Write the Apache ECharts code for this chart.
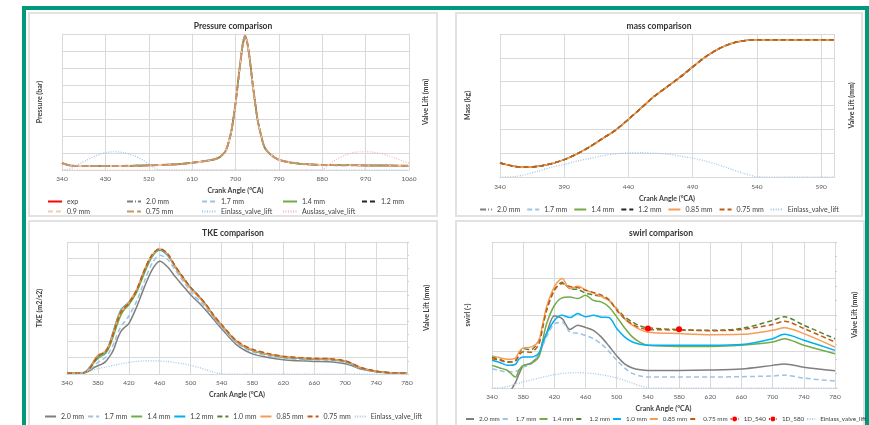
<!DOCTYPE html>
<html>
<head>
<meta charset="utf-8">
<script src="https://cdn.jsdelivr.net/npm/echarts@6/dist/echarts.min.js"></script>
<style>
body { margin: 0; background: #fff; width: 869px; height: 425px; overflow: hidden; position: relative; }
.frame { position: absolute; left: 22px; top: 6px; width: 847px; height: 440px; box-sizing: border-box; border: 4px solid #00997b; border-bottom: none; }
.panel { position: absolute; box-sizing: border-box; border: 2px solid #e2e2e2; }
.chart { position: absolute; }
</style>
</head>
<body>
<div class="frame"></div>
<div class="panel" style="left:28px;top:12px;width:410px;height:205px"></div>
<div class="panel" style="left:455px;top:12px;width:408px;height:205px"></div>
<div class="panel" style="left:28px;top:220px;width:410px;height:215px"></div>
<div class="panel" style="left:455px;top:220px;width:410px;height:215px"></div>
<div class="chart" id="pressure" style="left:28px;top:12px;width:410px;height:205px"></div>
<div class="chart" id="mass" style="left:455px;top:12px;width:408px;height:205px"></div>
<div class="chart" id="tke" style="left:28px;top:220px;width:410px;height:205px"></div>
<div class="chart" id="swirl" style="left:455px;top:220px;width:412px;height:205px"></div>
<script>
var FONT = 'Lato, "Open Sans", sans-serif';

// valve lift (mm)
var einlassAngle = [340, 350, 360, 370, 380, 390, 400, 410, 420, 430, 440, 450, 460, 470, 480, 490, 500, 510, 520, 530, 540, 545, 600, 700, 800, 1060];
var einlassLift = [0, 0.1, 0.9, 2.2, 3.6, 4.7, 5.9, 6.9, 7.9, 8.6, 8.9, 9.0, 8.8, 8.5, 7.8, 7.0, 5.9, 4.5, 2.9, 1.3, 0.1, 0, 0, 0, 0, 0];
var auslassAngle = [340, 870, 880, 890, 900, 910, 920, 930, 940, 950, 960, 970, 980, 990, 1000, 1010, 1020, 1030, 1040, 1050, 1060];
var auslassLift = [0, 0, 0.1, 2.0, 3.8, 5.3, 6.5, 7.5, 8.3, 8.8, 9.0, 9.0, 8.9, 8.6, 8.2, 7.6, 6.8, 6.0, 5.1, 4.2, 3.3];

// pressure
var pAngle = [340, 360, 400, 460, 520, 580, 610, 640, 660, 670, 680, 690, 695, 700, 705, 710, 715, 720, 725, 730, 735, 740, 745, 750, 760, 770, 780, 790, 810, 840, 880, 970, 1060];
var pExp = [3.9, 2.6, 2.4, 2.4, 2.7, 3.4, 4.2, 5.4, 6.6, 8.2, 11.5, 21, 29, 39, 51, 63, 73, 78, 74, 64, 52, 41, 31, 24, 13.5, 9.8, 7.6, 6.0, 4.6, 3.6, 3.0, 2.7, 2.5];
var pSim = [4.2, 2.5, 2.4, 2.4, 2.75, 3.4, 4.2, 5.4, 6.6, 8.2, 11.5, 21, 29, 39, 51, 63, 74, 79, 74, 64, 52, 41, 31, 24, 13.5, 9.8, 7.6, 6.0, 4.6, 3.6, 3.0, 2.7, 2.5];

// mass
var massAngle = [340, 350, 355, 360, 370, 380, 390, 400, 410, 420, 430, 440, 450, 460, 470, 480, 490, 500, 510, 520, 530, 540, 550, 600];
var massVal = [0.59, 0.46, 0.42, 0.42, 0.45, 0.56, 0.73, 0.97, 1.27, 1.62, 1.97, 2.42, 2.9, 3.38, 3.78, 4.18, 4.62, 5.04, 5.37, 5.6, 5.72, 5.76, 5.76, 5.76];

// TKE
var tkeAngle = [340, 350, 360, 365, 370, 375, 380, 385, 390, 395, 400, 405, 410, 415, 420, 430, 440, 450, 460, 470, 480, 490, 500, 510, 520, 530, 540, 560, 580, 600, 620, 640, 660, 680, 700, 710, 720, 740, 760, 780];
var tke20 = [0.04, 0.04, 0.05, 0.1, 0.22, 0.38, 0.5, 0.6, 0.75, 1.05, 1.45, 2.1, 2.6, 2.85, 3.05, 4.05, 5.25, 6.3, 6.83, 6.5, 5.9, 5.35, 4.8, 4.35, 3.85, 3.3, 2.75, 1.75, 1.22, 1.0, 0.86, 0.8, 0.76, 0.74, 0.62, 0.48, 0.3, 0.13, 0.06, 0.04];
var tke17 = [0.04, 0.04, 0.06, 0.12, 0.3, 0.5, 0.7, 0.85, 1.0, 1.35, 1.8, 2.4, 2.9, 3.2, 3.5, 4.4, 5.6, 6.7, 7.2, 6.95, 6.3, 5.65, 5.0, 4.5, 4.0, 3.4, 2.85, 1.85, 1.35, 1.1, 0.95, 0.88, 0.85, 0.83, 0.7, 0.54, 0.34, 0.14, 0.06, 0.04];
var tke14 = [0.04, 0.04, 0.06, 0.14, 0.38, 0.7, 0.95, 1.1, 1.25, 1.65, 2.3, 3.0, 3.6, 3.95, 4.2, 4.95, 6.1, 7.1, 7.55, 7.25, 6.5, 5.8, 5.2, 4.7, 4.15, 3.5, 2.95, 1.95, 1.42, 1.18, 1.02, 0.95, 0.9, 0.88, 0.76, 0.58, 0.37, 0.15, 0.07, 0.04];
var tke12 = [0.04, 0.04, 0.07, 0.18, 0.45, 0.8, 1.05, 1.2, 1.35, 1.85, 2.6, 3.35, 3.9, 4.15, 4.35, 5.05, 6.25, 7.15, 7.5, 7.2, 6.5, 5.85, 5.25, 4.75, 4.2, 3.5, 2.95, 1.95, 1.44, 1.2, 1.04, 0.96, 0.91, 0.89, 0.77, 0.59, 0.38, 0.16, 0.07, 0.04];
var tke10 = [0.04, 0.04, 0.06, 0.15, 0.4, 0.75, 1.1, 1.22, 1.38, 1.8, 2.5, 3.25, 3.8, 4.05, 4.3, 5.05, 6.25, 7.2, 7.58, 7.28, 6.52, 5.85, 5.22, 4.72, 4.18, 3.52, 2.97, 1.97, 1.46, 1.21, 1.05, 0.97, 0.92, 0.9, 0.78, 0.6, 0.38, 0.16, 0.07, 0.04];
var tke085 = [0.04, 0.04, 0.06, 0.15, 0.4, 0.8, 1.15, 1.25, 1.4, 1.8, 2.5, 3.3, 3.85, 4.1, 4.35, 5.1, 6.3, 7.2, 7.56, 7.25, 6.5, 5.8, 5.2, 4.7, 4.15, 3.5, 2.95, 1.95, 1.45, 1.2, 1.05, 0.97, 0.92, 0.9, 0.78, 0.6, 0.38, 0.16, 0.07, 0.04];
var tke075 = [0.04, 0.04, 0.06, 0.14, 0.38, 0.75, 1.1, 1.22, 1.38, 1.78, 2.45, 3.2, 3.78, 4.05, 4.3, 5.08, 6.28, 7.22, 7.6, 7.3, 6.55, 5.88, 5.25, 4.75, 4.22, 3.56, 3.0, 2.0, 1.5, 1.25, 1.08, 1.0, 0.95, 0.93, 0.8, 0.62, 0.4, 0.17, 0.07, 0.04];

// swirl
var swAngle = [340, 350, 360, 370, 375, 380, 390, 400, 405, 410, 420, 430, 440, 450, 460, 470, 480, 490, 500, 510, 520, 530, 540, 580, 620, 660, 700, 715, 740, 780];
var sw20 = [-0.6, -0.45, -0.2, 0.15, 0.4, 0.6, 0.68, 0.9, 1.2, 1.5, 1.98, 1.9, 1.6, 1.72, 1.66, 1.58, 1.4, 1.15, 0.88, 0.66, 0.55, 0.5, 0.48, 0.48, 0.49, 0.52, 0.62, 0.66, 0.57, 0.47];
var sw17 = [0.53, 0.48, 0.44, 0.45, 0.5, 0.58, 0.65, 0.94, 1.15, 1.4, 1.76, 1.8, 1.53, 1.5, 1.44, 1.35, 1.21, 1.0, 0.76, 0.55, 0.4, 0.33, 0.3, 0.3, 0.3, 0.31, 0.33, 0.35, 0.27, 0.19];
var sw14 = [0.62, 0.55, 0.48, 0.3, 0.5, 0.62, 0.67, 0.85, 1.3, 1.76, 2.26, 2.47, 2.49, 2.45, 2.54, 2.4, 2.36, 2.22, 1.95, 1.65, 1.4, 1.25, 1.17, 1.14, 1.14, 1.17, 1.26, 1.35, 1.17, 0.94];
var sw12 = [0.85, 0.78, 0.71, 0.75, 0.95, 1.08, 1.05, 1.3, 1.7, 2.13, 2.68, 2.9, 2.72, 2.7, 2.6, 2.55, 2.51, 2.4, 2.17, 1.95, 1.81, 1.7, 1.65, 1.6, 1.58, 1.63, 1.85, 1.95, 1.72, 1.35];
var sw10 = [0.76, 0.7, 0.62, 0.65, 0.8, 0.85, 0.85, 0.95, 1.25, 1.49, 1.85, 1.99, 1.93, 2.04, 1.95, 1.99, 1.94, 1.93, 1.63, 1.4, 1.26, 1.2, 1.17, 1.17, 1.17, 1.19, 1.35, 1.47, 1.31, 1.03];
var sw085 = [0.88, 0.83, 0.79, 0.82, 1.0, 1.1, 1.12, 1.3, 1.75, 2.22, 2.77, 3.0, 2.72, 2.79, 2.69, 2.6, 2.51, 2.4, 2.15, 1.9, 1.72, 1.6, 1.53, 1.49, 1.46, 1.47, 1.58, 1.65, 1.49, 1.12];
var sw075 = [0.8, 0.76, 0.71, 0.74, 0.9, 0.99, 0.98, 1.2, 1.65, 2.13, 2.68, 2.86, 2.78, 2.75, 2.68, 2.62, 2.55, 2.42, 2.13, 1.9, 1.75, 1.65, 1.6, 1.59, 1.57, 1.6, 1.74, 1.83, 1.63, 1.26];
var d540Angle = [540], d540Val = [1.63];
var d580Angle = [580], d580Val = [1.61];

var DASH = [5, 3], DASHDOT = [6, 2, 1, 2], DOT = [1, 1.5], LONGDASH = [7, 3];

function pairs(xs, ys) {
    return xs.map(function (x, i) { return [x, ys[i]]; });
}

function line(name, xs, ys, color, dash, width, axis) {
    return {
        name: name, type: 'line', data: pairs(xs, ys),
        yAxisIndex: axis || 0, symbol: 'none', smooth: 0.3,
        lineStyle: { color: color, width: width || 1.5, type: dash || 'solid' },
        itemStyle: { color: color },
        emphasis: { disabled: true }
    };
}

function valve(name, xs, ys, color) {
    return line(name, xs, ys, color, DOT, 1.2, 1);
}

// legend entries: hide the symbol in the icon except for the marker series
function legendData(names, series) {
    return names.map(function (n) {
        var s = series.filter(function (x) { return x.name === n; })[0];
        return { name: n, itemStyle: { opacity: s.symbol !== 'none' ? 1 : 0 } };
    });
}

function fixLegend(lg, series) {
    var names = lg.names || series.map(function (s) { return s.name; });
    var out = Object.assign({ itemStyle: { opacity: 0 } }, lg);
    delete out.names;
    out.data = legendData(names, series);
    return out;
}

function panel(id, c) {
    var chart = echarts.init(document.getElementById(id));
    var legends = [].concat(c.legend).map(function (lg) { return fixLegend(lg, c.series); });
    chart.setOption({
        animation: false,
        textStyle: { fontFamily: FONT },
        title: {
            text: c.title, left: 'center', top: c.titleTop,
            textStyle: { fontSize: 8.5, fontWeight: 'bold', color: '#333', fontFamily: FONT }
        },
        grid: c.grid,
        legend: legends,
        xAxis: {
            type: 'value', min: c.xMin, max: c.xMax, interval: c.xStep,
            name: 'Crank Angle (°CA)', nameLocation: 'middle', nameGap: c.xNameGap,
            nameTextStyle: { fontSize: 7, fontWeight: 'bold', color: '#404040' },
            axisLine: { lineStyle: { color: '#d9d9d9' } },
            axisTick: { show: false },
            axisLabel: {
                fontSize: 6.5, color: '#595959', margin: c.xLabelMargin, showMaxLabel: c.showMax !== false,
                formatter: function (v) { return String(v); }
            },
            splitLine: { lineStyle: { color: '#d9d9d9' } }
        },
        yAxis: [{
            type: 'value', min: 0, max: c.yMax, interval: c.yStep,
            name: c.yName, nameLocation: 'middle', nameGap: c.yNameGap, nameRotate: 90,
            nameTextStyle: { fontSize: 7, fontWeight: 'bold', color: '#404040' },
            axisLine: { show: false }, axisTick: { show: false }, axisLabel: { show: false },
            splitLine: { lineStyle: { color: '#d9d9d9' } }
        }, {
            type: 'value', min: 0, max: c.y2Max, interval: c.y2Max / 10, position: 'right',
            name: 'Valve Lift (mm)', nameLocation: 'middle', nameGap: c.y2NameGap, nameRotate: 90,
            nameTextStyle: { fontSize: 7, fontWeight: 'bold', color: '#404040' },
            axisLine: { show: false },
            axisTick: { show: c.y2Ticks, length: 2, lineStyle: { color: '#d0d0d0' } },
            axisLabel: { show: false }, splitLine: { show: false }
        }],
        series: c.series
    });
}

// pressure legend: two rows, items aligned in five columns
var pressureRows = [['exp', '2.0 mm', '1.7 mm', '1.4 mm', '1.2 mm'], ['0.9 mm', '0.75 mm', 'Einlass_valve_lift', 'Auslass_valve_lift']];
var pressureColLeft = [14, 93, 168, 249, 328];
var pressureRowTop = [181, 191];
var pressureLegends = [];
pressureRows.forEach(function (row, r) {
    row.forEach(function (name, i) {
        pressureLegends.push({
            names: [name], left: pressureColLeft[i], top: pressureRowTop[r],
            itemWidth: 14, itemHeight: 8, textStyle: { fontSize: 7, color: '#404040' }
        });
    });
});

panel('pressure', {
    title: 'Pressure comparison', titleTop: 5,
    grid: { left: 32, top: 22, width: 349, height: 136 },
    xMin: 340, xMax: 1060, xStep: 90, xLabelMargin: 5, xNameGap: 15,
    yMax: 80, yStep: 10, yName: 'Pressure (bar)', yNameGap: 19,
    y2Max: 67, y2NameGap: 13, y2Ticks: false,
    legend: pressureLegends,
    series: [
        line('exp', pAngle, pExp, '#ff0000', 'solid', 1.5),
        line('2.0 mm', pAngle, pSim, '#7f7f7f', DASHDOT, 1.5),
        line('1.7 mm', pAngle, pSim, '#9dc3e6', DASH, 1.5),
        line('1.4 mm', pAngle, pSim, '#70ad47', 'solid', 1.5),
        line('1.2 mm', pAngle, pSim, '#262626', DASH, 1.5),
        line('0.9 mm', pAngle, pSim, '#f8cbad', DASH, 2),
        line('0.75 mm', pAngle, pSim, '#c9956b', LONGDASH, 2),
        valve('Einlass_valve_lift', einlassAngle, einlassLift, '#9dc3e6'),
        valve('Auslass_valve_lift', auslassAngle, auslassLift, '#f4b6b6')
    ]
});

panel('mass', {
    title: 'mass comparison', titleTop: 5,
    grid: { left: 45, top: 22, width: 338, height: 143 },
    xMin: 340, xMax: 600, xStep: 50, xLabelMargin: 6, xNameGap: 11, showMax: false,
    yMax: 6, yStep: 1, yName: 'Mass (kg)', yNameGap: 29,
    y2Max: 53, y2NameGap: 14, y2Ticks: false,
    legend: {
        left: 'center', top: 189, itemWidth: 12, itemHeight: 8, itemGap: 6,
        textStyle: { fontSize: 7, color: '#404040' }
    },
    series: [
        line('2.0 mm', massAngle, massVal, '#7f7f7f', DASHDOT, 1.5),
        line('1.7 mm', massAngle, massVal, '#9dc3e6', DASH, 1.5),
        line('1.4 mm', massAngle, massVal, '#70ad47', 'solid', 1.5),
        line('1.2 mm', massAngle, massVal, '#262626', DASH, 1.5),
        line('0.85 mm', massAngle, massVal, '#f59d56', 'solid', 1.5),
        line('0.75 mm', massAngle, massVal, '#c55a11', DASH, 1.5),
        valve('Einlass_valve_lift', einlassAngle, einlassLift, '#9dc3e6')
    ]
});

panel('tke', {
    title: 'TKE comparison', titleTop: 4,
    grid: { left: 39, top: 22, width: 341, height: 132 },
    xMin: 340, xMax: 780, xStep: 40, xLabelMargin: 5, xNameGap: 15,
    yMax: 8, yStep: 1, yName: 'TKE (m2/s2)', yNameGap: 24,
    y2Max: 90, y2NameGap: 16, y2Ticks: true,
    legend: {
        left: 'center', top: 188, width: 410, itemWidth: 11, itemHeight: 8, itemGap: 3,
        textStyle: { fontSize: 7, color: '#404040' }
    },
    series: [
        line('2.0 mm', tkeAngle, tke20, '#7f7f7f', 'solid', 1.5),
        line('1.7 mm', tkeAngle, tke17, '#9dc3e6', DASH, 1.5),
        line('1.4 mm', tkeAngle, tke14, '#70ad47', 'solid', 1.5),
        line('1.2 mm', tkeAngle, tke12, '#00b0f0', 'solid', 1.5),
        line('1.0 mm', tkeAngle, tke10, '#548235', DASH, 1.5),
        line('0.85 mm', tkeAngle, tke085, '#f59d56', 'solid', 1.5),
        line('0.75 mm', tkeAngle, tke075, '#c55a11', DASH, 1.5),
        valve('Einlass_valve_lift', einlassAngle, einlassLift, '#9dc3e6')
    ]
});

var oneD540 = line('1D_540', d540Angle, d540Val, '#ff0000', DOT, 1.5);
oneD540.symbol = 'circle'; oneD540.symbolSize = 6;
var oneD580 = line('1D_580', d580Angle, d580Val, '#ff0000', DOT, 1.5);
oneD580.symbol = 'circle'; oneD580.symbolSize = 6;

panel('swirl', {
    title: 'swirl comparison', titleTop: 4,
    grid: { left: 37, top: 22, width: 343, height: 146 },
    xMin: 340, xMax: 780, xStep: 40, xLabelMargin: 5, xNameGap: 15,
    yMax: 4, yStep: 1, yName: 'swirl (-)', yNameGap: 21,
    y2Max: 86, y2NameGap: 16, y2Ticks: true,
    legend: {
        left: 5, top: 191, width: 700, itemWidth: 8, itemHeight: 6, itemGap: 2,
        textStyle: { fontSize: 6.3, color: '#404040' }
    },
    series: [
        line('2.0 mm', swAngle, sw20, '#7f7f7f', 'solid', 1.5),
        line('1.7 mm', swAngle, sw17, '#9dc3e6', DASH, 1.5),
        line('1.4 mm', swAngle, sw14, '#70ad47', 'solid', 1.5),
        line('1.2 mm', swAngle, sw12, '#548235', DASH, 1.5),
        line('1.0 mm', swAngle, sw10, '#00b0f0', 'solid', 1.5),
        line('0.85 mm', swAngle, sw085, '#f59d56', 'solid', 1.5),
        line('0.75 mm', swAngle, sw075, '#c55a11', DASH, 1.5),
        oneD540,
        oneD580,
        valve('Einlass_valve_lift', einlassAngle, einlassLift, '#9dc3e6')
    ]
});
</script>
</body>
</html>
